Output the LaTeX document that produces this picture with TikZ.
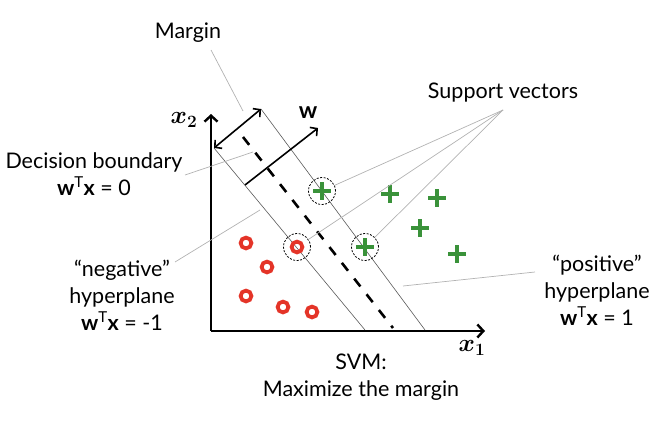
\documentclass[tikz,border=0pt]{standalone}
\usepackage{fontspec}
\setmainfont{Lato}
\usetikzlibrary{arrows.meta}
\definecolor{ptred}{RGB}{228,52,40}
\definecolor{ptgreen}{RGB}{58,146,58}

\begin{document}
\begin{tikzpicture}[x=1pt, y=-1pt, font=\fontsize{21.5}{27}\selectfont,
    lbl/.style={inner sep=0pt, align=center},
    lead/.style={draw=black!30, line width=0.7pt},
    hyp/.style={draw=black!65, line width=0.6pt},
    svring/.style={circle, draw, dash pattern=on 2pt off 1.5pt, line width=0.8pt, minimum size=27pt, inner sep=0pt},
    axis/.style={-{Straight Barb[length=6pt, width=13pt]}, line width=2.4pt}]
    \useasboundingbox (0,0) rectangle (658,420);

    \node[lbl] (margin) at (188,33) {Margin};
    \node[lbl] (supvec) at (503,93) {Support vectors};
    \node[lbl] (decb) at (94,174) {Decision boundary\\{\bfseries w}\textsuperscript{T}{\bfseries x} = 0};
    \node[lbl] (negl) at (122,295) {“negative”\\hyperplane\\{\bfseries w}\textsuperscript{T}{\bfseries x} = -1};
    \node[lbl] (posl) at (597,290) {“positive”\\hyperplane\\{\bfseries w}\textsuperscript{T}{\bfseries x} = 1};
    \node[lbl] (svm) at (361,377) {SVM:\\Maximize the margin};
    \node[lbl, font=\fontsize{25}{25}\selectfont\boldmath] (xtwo) at (184,120) {$x_2$};
    \node[lbl, font=\fontsize{25}{25}\selectfont\boldmath] (xone) at (472,348) {$x_1$};
    \node[lbl, font=\fontsize{23}{23}\selectfont\bfseries] (wlbl) at (308,113) {w};

    \coordinate (O) at (211,331);
    \coordinate (ytip) at (211,114);
    \coordinate (xtip) at (485,331);
    \draw[axis] (O) -- (ytip);
    \draw[axis] (O) -- (xtip);

    \coordinate (negtop) at (214,148);
    \coordinate (negbot) at (365,330);
    \coordinate (postop) at (261,109);
    \coordinate (posbot) at (425,330);
    \coordinate (dectop) at (243,137);
    \coordinate (decbot) at (393,328);
    \coordinate (wbase) at (245,185);
    \coordinate (wtip) at (318,128);
    \draw[hyp] (negtop) -- (negbot);
    \draw[hyp] (postop) -- (posbot);
    \draw[line width=2.6pt, dash pattern=on 10pt off 10pt] (dectop) -- (decbot);
    \draw[{Straight Barb[length=5pt, width=11pt]}-{Straight Barb[length=5pt, width=11pt]}, line width=1.6pt] (negtop) -- (postop);
    \draw[-{Straight Barb[length=5pt, width=11pt]}, line width=1.6pt] (wbase) -- (wtip);

    \foreach \px/\py in {246/243, 297/247, 267/267, 246/296, 283/307, 312/312}
      \draw[ptred, line width=3.8pt] (\px,\py) circle (5.4pt);
    \foreach \px/\py in {322/191, 390/194, 437/198, 420/228, 365/247, 457/254}
      \draw[ptgreen, line width=3.2pt] (\px-9,\py) -- (\px+9,\py) (\px,\py-9) -- (\px,\py+9);

    \node[svring] (svone) at (322,191) {};
    \node[svring] (svtwo) at (297,247) {};
    \node[svring] (svthree) at (365,247) {};

    \coordinate (mA) at (211,50);
    \coordinate (mB) at (243,111);
    \coordinate (svA) at (503,110);
    \coordinate (dA) at (185,175);
    \coordinate (dB) at (253,152);
    \coordinate (nA) at (175,262);
    \coordinate (nB) at (260,210);
    \coordinate (pA) at (535,272);
    \coordinate (pB) at (403,286);
    \draw[lead] (mA) -- (mB);
    \draw[lead] (svA) -- (svone);
    \draw[lead] (svA) -- (svtwo);
    \draw[lead] (svA) -- (svthree);
    \draw[lead] (dA) -- (dB);
    \draw[lead] (nA) -- (nB);
    \draw[lead] (pA) -- (pB);
\end{tikzpicture}
\end{document}
